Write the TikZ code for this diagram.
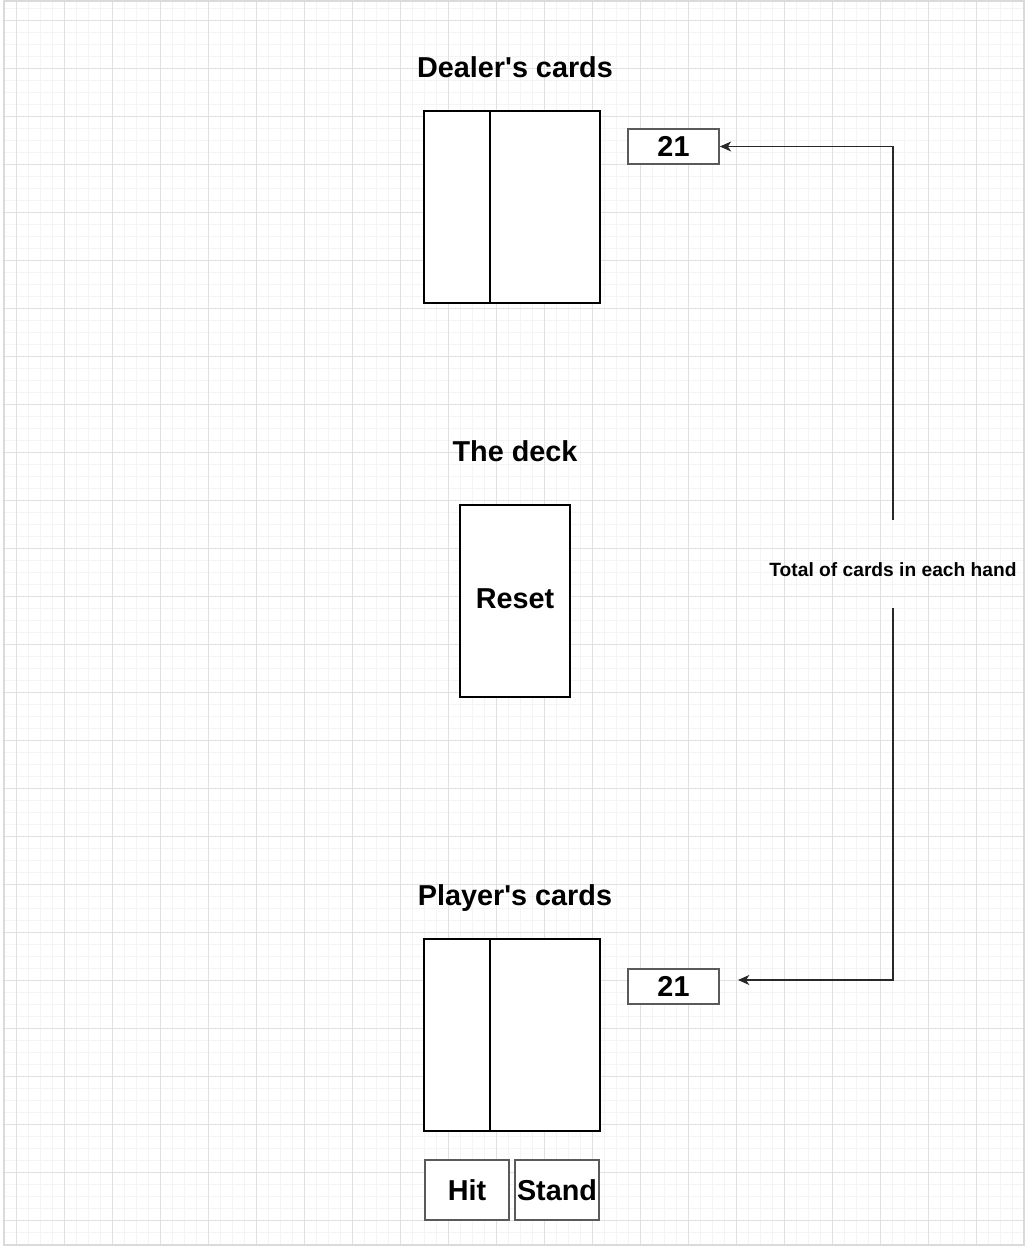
\documentclass[tikz,border=0pt]{standalone}
\usepackage{fontspec}
\setmainfont{Liberation Sans}
\usepackage{xcolor}
\definecolor{gridmin}{RGB}{244,244,244}
\definecolor{gridmaj}{RGB}{224,224,224}
\definecolor{boxgray}{RGB}{90,90,90}
\definecolor{linegray}{RGB}{40,40,40}
\usetikzlibrary{arrows.meta}

\begin{document}
\begin{tikzpicture}[x=0.75pt, y=-0.75pt, >=Stealth,
    title/.style={anchor=base, font=\bfseries\fontsize{21.6}{26}\selectfont},
    cardbox/.style={draw=black, line width=0.9pt, fill=white, inner sep=0pt,
        minimum width=82.5pt, minimum height=144pt,
        font=\bfseries\fontsize{21.6}{26}\selectfont},
    sumbox/.style={draw=boxgray, line width=1.3pt, fill=white, inner sep=0pt,
        minimum width=68.25pt, minimum height=26.25pt,
        font=\bfseries\fontsize{21.6}{26}\selectfont},
    btnbox/.style={draw=boxgray, line width=1.3pt, fill=white, inner sep=0pt,
        minimum width=63pt, minimum height=45pt,
        font=\bfseries\fontsize{21.6}{26}\selectfont},
    notelabel/.style={inner sep=0pt, font=\bfseries\fontsize{14.4}{17}\selectfont},
    conn/.style={draw=linegray, line width=0.9pt, arrows={-Stealth[length=8.5pt, width=7.5pt, inset=2.5pt]}}]

\useasboundingbox (0,0) rectangle (1026,1247);

% === Cuadricula de fondo ===
\fill[white] (0,0) rectangle (1026,1247);
\foreach \x in {4,16,...,1020}
    \draw[gridmin, line width=0.75pt] (\x,1) -- (\x,1245);
\foreach \y in {8,20,...,1244}
    \draw[gridmin, line width=0.75pt] (4,\y) -- (1024,\y);
\foreach \x in {16,64,...,1020}
    \draw[gridmaj, line width=0.75pt] (\x,1) -- (\x,1245);
\foreach \y in {20,68,...,1244}
    \draw[gridmaj, line width=0.75pt] (4,\y) -- (1024,\y);
\draw[gridmaj!120, line width=1.2pt] (4,1) rectangle (1024,1245);

% === Cartas del crupier ===
\node[title] (dtitle) at (515,77) {Dealer\textquotesingle s cards};
\node[cardbox] (dcard1) at (479,207) {};
\node[cardbox] (dcard2) at (545,207) {};
\node[sumbox] (dsum) at (673.5,146.5) {21};

% === Mazo ===
\node[title] (decktitle) at (515,461) {The deck};
\node[cardbox] (deck) at (515,601) {\raisebox{3.75pt}{Reset}};

% === Cartas del jugador ===
\node[title] (ptitle) at (515,905) {Player\textquotesingle s cards};
\node[cardbox] (pcard1) at (479,1035) {};
\node[cardbox] (pcard2) at (545,1035) {};
\node[sumbox] (psum) at (673.5,986.5) {21};

% Botones
\node[btnbox] (hit) at (467,1190) {Hit};
\node[btnbox] (stand) at (557,1190) {Stand};

% === Conector con etiqueta ===
\coordinate (gapt) at (893,520);
\coordinate (gapb) at (893,608);
\coordinate (ptip) at (738,980);
\node[notelabel] (total) at (893,570) {Total of cards in each hand};
\draw[conn] (gapt) |- (dsum.east);
\draw[conn] (gapb) |- (ptip);

\end{tikzpicture}
\end{document}
